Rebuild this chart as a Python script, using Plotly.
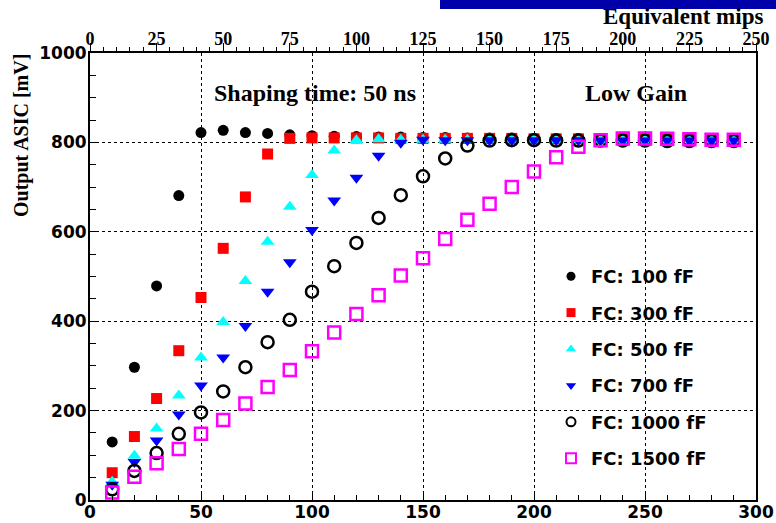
import plotly.graph_objects as go

# ---- data ----
charge_x = [10, 20, 30, 40, 50, 60, 70, 80, 90, 100, 110, 120, 130, 140, 150,
            160, 170, 180, 190, 200, 210, 220, 230, 240, 250, 260, 270, 280, 290]

fc100 = [130, 297, 479, 681, 822, 827, 822, 820, 817, 815, 814, 813, 812, 812, 811,
         811, 810, 810, 810, 809, 809, 809, 808, 808, 808, 808, 807, 807, 807]
fc300 = [61, 142, 227, 334, 453, 563, 678, 774, 809, 810, 810, 810, 810, 809, 809,
         809, 809, 809, 809, 808, 808, 808, 808, 808, 808, 807, 807, 807, 807]
fc500 = [41, 99, 160, 234, 319, 398, 490, 578, 656, 727, 782, 805, 807, 806, 806,
         806, 806, 806, 806, 806, 805, 805, 805, 805, 805, 805, 805, 805, 805]
fc700 = [34, 85, 133, 191, 256, 319, 389, 466, 532, 604, 670, 721, 770, 799, 806,
         805, 805, 805, 805, 805, 805, 805, 804, 804, 804, 804, 804, 804, 804]
fc1000 = [24, 65, 105, 148, 196, 243, 297, 353, 403, 466, 523, 575, 631, 682, 724,
          764, 793, 804, 805, 805, 804, 804, 804, 804, 804, 803, 803, 803, 803]
fc1500 = [17, 52, 82, 114, 148, 179, 216, 253, 291, 333, 375, 416, 458, 502, 541,
          584, 627, 663, 700, 735, 767, 790, 805, 809, 809, 808, 807, 806, 806]

series_names = ["FC: 100 fF", "FC: 300 fF", "FC: 500 fF", "FC: 700 fF",
                "FC: 1000 fF", "FC: 1500 fF"]
series_values = [fc100, fc300, fc500, fc700, fc1000, fc1500]

x_ticks = [0, 50, 100, 150, 200, 250, 300]
y_ticks = [0, 200, 400, 600, 800, 1000]
mips_ticks = [0, 25, 50, 75, 100, 125, 150, 175, 200, 225, 250]

# ---- styles ----
styles = [
    dict(symbol="circle", color="black", size=11, line=dict(width=0)),
    dict(symbol="square", color="#FF0000", size=11, line=dict(width=0)),
    dict(symbol="triangle-up", color="#00FFFF", size=12, line=dict(width=0)),
    dict(symbol="triangle-down", color="#0000FF", size=12, line=dict(width=0)),
    dict(symbol="circle-open", color="black", size=12, line=dict(width=2.5, color="black")),
    dict(symbol="square-open", color="#FF00FF", size=12, line=dict(width=2.5, color="#FF00FF")),
]
legend_styles = [
    dict(symbol="circle", color="black", size=9),
    dict(symbol="square", color="#FF0000", size=9),
    dict(symbol="triangle-up", color="#00FFFF", size=9),
    dict(symbol="triangle-down", color="#0000FF", size=9),
    dict(symbol="circle-open", color="black", size=9, line=dict(width=2, color="black")),
    dict(symbol="square-open", color="#FF00FF", size=10, line=dict(width=2, color="#FF00FF")),
]

W, H = 776, 523
ML, MR, MT, MB = 90, 20, 53, 23
PW, PH = W - ML - MR, H - MT - MB


def px(x):
    return (x - ML) / PW


def py(y):
    return (H - MB - y) / PH


fig = go.Figure()
for name, vals, st in zip(series_names, series_values, styles):
    fig.add_trace(go.Scatter(x=charge_x, y=vals, mode="markers", name=name,
                             marker=st, showlegend=False, hoverinfo="x+y"))
for i, (name, st) in enumerate(zip(series_names, legend_styles)):
    fig.add_trace(go.Scatter(x=[None], y=[None], mode="markers", name=name,
                             marker=st, showlegend=True, legendgroup="g%d" % i))
# carrier for the top axis
fig.add_trace(go.Scatter(x=[mips_ticks[0], mips_ticks[-1]], y=[None, None], xaxis="x2",
                         mode="markers", marker=dict(opacity=0), showlegend=False,
                         hoverinfo="skip"))

sans = "DejaVu Sans"
serif = "Liberation Serif"

fig.update_layout(
    width=W, height=H,
    margin=dict(l=ML, r=MR, t=MT, b=MB, pad=0, autoexpand=False),
    paper_bgcolor="white", plot_bgcolor="white",
    xaxis=dict(range=[0, 300], tickvals=x_ticks, ticktext=[str(v) for v in x_ticks],
               automargin=False, ticklabelstandoff=-4,
               ticks="inside", ticklen=9, tickwidth=1, tickcolor="black",
               minor=dict(dtick=10, ticks="inside", ticklen=5, tickcolor="black", showgrid=False),
               showgrid=True, gridcolor="black", griddash="dot", gridwidth=1,
               showline=True, linecolor="black", linewidth=2, mirror=True,
               zeroline=False,
               tickfont=dict(family=sans, size=17, color="black", weight="bold")),
    yaxis=dict(range=[0, 1000], tickvals=y_ticks, ticktext=[str(v) for v in y_ticks],
               automargin=False, ticklabelstandoff=-2,
               ticks="inside", ticklen=9, tickwidth=1, tickcolor="black",
               minor=dict(dtick=50, ticks="inside", ticklen=6, tickcolor="black", showgrid=False),
               showgrid=True, gridcolor="black", griddash="dot", gridwidth=1,
               showline=True, linecolor="black", linewidth=2, mirror=True,
               zeroline=False,
               tickfont=dict(family=sans, size=17, color="black", weight="bold")),
    xaxis2=dict(range=[0, 250], overlaying="x", side="top", anchor="y",
                automargin=False, ticklabelstandoff=-9,
                tickvals=mips_ticks, ticktext=[str(v) for v in mips_ticks],
                ticks="outside", ticklen=8, tickwidth=1, tickcolor="black",
                minor=dict(dtick=5, ticks="outside", ticklen=4, tickcolor="black", showgrid=False),
                showgrid=False, zeroline=False, showline=True, linecolor="black", linewidth=2,
                tickfont=dict(family=serif, size=18, color="black", weight="bold")),
    legend=dict(x=px(551), y=py(258), xanchor="left", yanchor="top",
                bgcolor="rgba(0,0,0,0)", borderwidth=0, tracegroupgap=10,
                font=dict(family=sans, size=18, color="black", weight="bold")),
    showlegend=True,
)

fig.add_shape(type="rect", xref="paper", yref="paper",
              x0=px(440), x1=px(776), y0=py(9), y1=py(0),
              fillcolor="#0000AA", line=dict(width=0), layer="above")

ann_font = dict(family=serif, size=24, color="black", weight="bold")
fig.add_annotation(text="Shaping time: 50 ns", xref="paper", yref="paper",
                   x=px(315), y=py(93), xanchor="center", yanchor="middle",
                   showarrow=False, font=ann_font)
fig.add_annotation(text="Low Gain", xref="paper", yref="paper",
                   x=px(636), y=py(93), xanchor="center", yanchor="middle",
                   showarrow=False, font=ann_font)
fig.add_annotation(text="Equivalent mips", xref="paper", yref="paper",
                   x=px(764), y=py(16), xanchor="right", yanchor="middle",
                   showarrow=False, borderpad=0,
                   font=dict(family=serif, size=23, color="black", weight="bold"))
fig.add_annotation(text="Output ASIC [mV]", xref="paper", yref="paper",
                   x=px(21), y=py(136), xanchor="center", yanchor="middle",
                   textangle=-90, showarrow=False,
                   font=dict(family=serif, size=20, color="black", weight="bold"))

fig.write_html("out.html")
